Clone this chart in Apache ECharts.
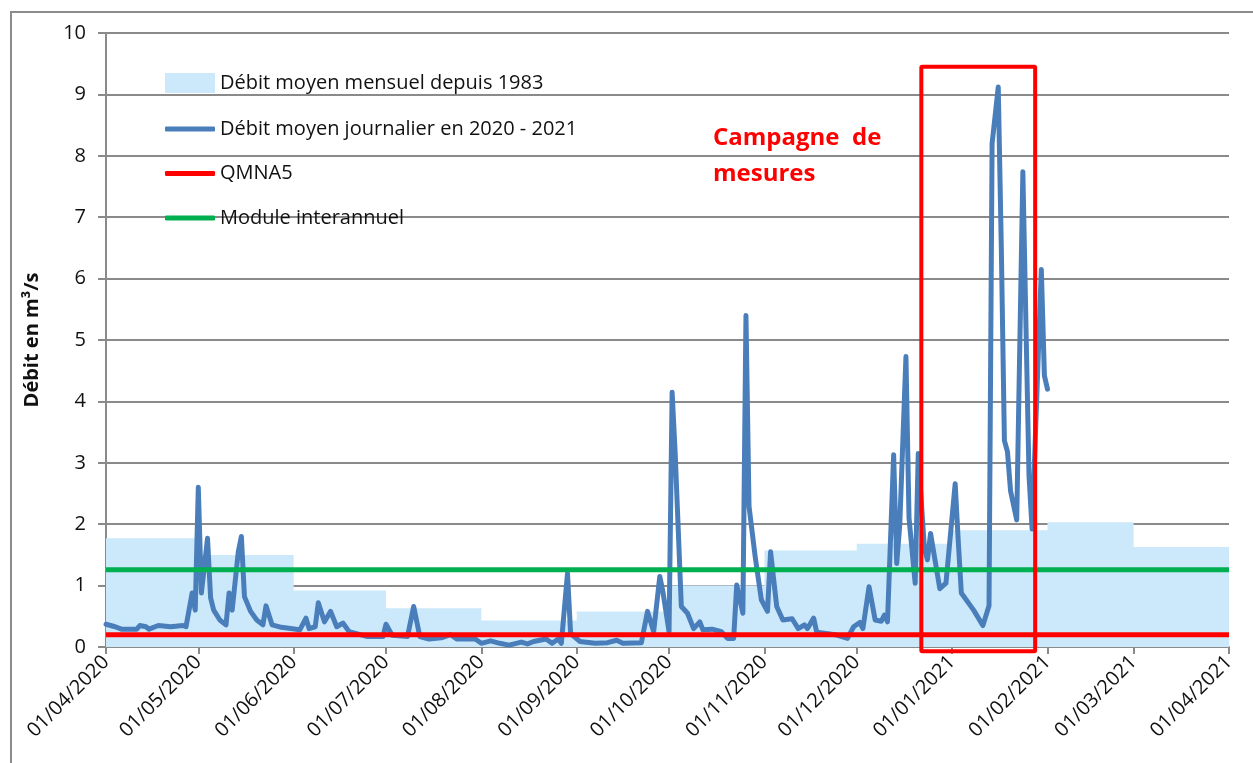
<!DOCTYPE html>
<html>
<head>
<meta charset="utf-8">
<script src="https://cdn.jsdelivr.net/npm/echarts@6/dist/echarts.min.js"></script>
<style>
  html, body { margin: 0; padding: 0; background: #fff; }
  #chart { width: 1253px; height: 763px; }
</style>
</head>
<body>
<div id="chart"></div>
<script>
// Monthly mean flow since 1983 (value held from each month start)
const monthStarts = ['2020-04-01', '2020-05-01', '2020-06-01', '2020-07-01', '2020-08-01', '2020-09-01',
  '2020-10-01', '2020-11-01', '2020-12-01', '2021-01-01', '2021-02-01', '2021-03-01', '2021-04-01'];
const monthlyMean = [1.77, 1.50, 0.92, 0.63, 0.43, 0.58, 1.00, 1.57, 1.68, 1.90, 2.03, 1.63, 1.75];

// Daily mean flow 2020 - 2021 (m3/s)
const dailyDates = [
  '2020-04-01', '2020-04-04', '2020-04-06', '2020-04-11', '2020-04-12', '2020-04-14', '2020-04-15', '2020-04-18',
  '2020-04-22', '2020-04-26', '2020-04-27', '2020-04-29', '2020-04-30', '2020-05-01', '2020-05-02', '2020-05-04',
  '2020-05-05', '2020-05-06', '2020-05-08', '2020-05-10', '2020-05-11', '2020-05-12', '2020-05-14', '2020-05-15',
  '2020-05-16', '2020-05-18', '2020-05-20', '2020-05-22', '2020-05-23', '2020-05-25', '2020-05-28', '2020-06-03',
  '2020-06-05', '2020-06-06', '2020-06-08', '2020-06-09', '2020-06-11', '2020-06-13', '2020-06-15', '2020-06-17',
  '2020-06-19', '2020-06-25', '2020-06-30', '2020-07-01', '2020-07-03', '2020-07-08', '2020-07-10', '2020-07-12',
  '2020-07-15', '2020-07-19', '2020-07-22', '2020-07-24', '2020-07-30', '2020-08-01', '2020-08-04', '2020-08-07',
  '2020-08-10', '2020-08-14', '2020-08-16', '2020-08-18', '2020-08-22', '2020-08-24', '2020-08-26', '2020-08-27',
  '2020-08-29', '2020-08-30', '2020-09-02', '2020-09-07', '2020-09-11', '2020-09-14', '2020-09-16', '2020-09-22',
  '2020-09-24', '2020-09-26', '2020-09-28', '2020-09-29', '2020-10-01', '2020-10-02', '2020-10-03', '2020-10-05',
  '2020-10-07', '2020-10-09', '2020-10-11', '2020-10-12', '2020-10-15', '2020-10-18', '2020-10-20', '2020-10-22',
  '2020-10-23', '2020-10-25', '2020-10-26', '2020-10-27', '2020-10-29', '2020-10-31', '2020-11-02', '2020-11-03',
  '2020-11-05', '2020-11-07', '2020-11-10', '2020-11-12', '2020-11-14', '2020-11-15', '2020-11-17', '2020-11-18',
  '2020-11-24', '2020-11-28', '2020-11-30', '2020-12-02', '2020-12-03', '2020-12-05', '2020-12-07', '2020-12-09',
  '2020-12-10', '2020-12-11', '2020-12-13', '2020-12-14', '2020-12-15', '2020-12-17', '2020-12-18', '2020-12-20',
  '2020-12-21', '2020-12-23', '2020-12-24', '2020-12-25', '2020-12-28', '2020-12-30', '2021-01-02', '2021-01-03',
  '2021-01-04', '2021-01-08', '2021-01-11', '2021-01-13', '2021-01-14', '2021-01-16', '2021-01-17', '2021-01-18',
  '2021-01-19', '2021-01-20', '2021-01-22', '2021-01-24', '2021-01-26', '2021-01-27', '2021-01-30', '2021-01-31',
  '2021-02-01'
];
const dailyFlow = [
  0.37, 0.33, 0.29, 0.29, 0.35, 0.33, 0.29, 0.35,
  0.33, 0.35, 0.33, 0.88, 0.60, 2.60, 0.88, 1.77,
  0.80, 0.60, 0.44, 0.36, 0.88, 0.60, 1.55, 1.80,
  0.82, 0.58, 0.44, 0.36, 0.67, 0.36, 0.32, 0.28,
  0.47, 0.30, 0.33, 0.72, 0.41, 0.58, 0.33, 0.39,
  0.25, 0.17, 0.17, 0.37, 0.19, 0.17, 0.66, 0.17,
  0.13, 0.15, 0.20, 0.13, 0.13, 0.06, 0.10, 0.06,
  0.03, 0.08, 0.05, 0.09, 0.13, 0.06, 0.13, 0.06,
  1.20, 0.22, 0.09, 0.06, 0.07, 0.11, 0.06, 0.07,
  0.58, 0.25, 1.15, 0.90, 0.25, 4.15, 3.15, 0.66,
  0.55, 0.30, 0.41, 0.28, 0.29, 0.25, 0.14, 0.14,
  1.01, 0.55, 5.40, 2.29, 1.47, 0.77, 0.58, 1.55,
  0.66, 0.44, 0.46, 0.30, 0.36, 0.30, 0.47, 0.24,
  0.20, 0.14, 0.33, 0.40, 0.30, 0.98, 0.44, 0.42,
  0.52, 0.41, 3.13, 1.36, 2.00, 4.73, 2.10, 1.04,
  3.15, 1.60, 1.42, 1.85, 0.95, 1.04, 2.66, 1.73,
  0.88, 0.60, 0.35, 0.67, 8.20, 9.12, 6.50, 3.36,
  3.18, 2.54, 2.07, 7.74, 2.79, 1.92, 6.15, 4.42,
  4.20
];

// Reference flows (m3/s)
const qmna5 = 0.20;
const moduleInterannuel = 1.26;

// Measurement campaign window
const campaignDates = ['2020-12-22', '2021-01-28'];
const campaignFlowRange = [-0.07, 9.45];

const yTicks = { min: 0, max: 10, interval: 1 };
const periodStart = '2020-04-01';
const periodEnd = '2021-04-01';

const FONT = 'Open Sans';
const TXT = '#111111';
const GRID = '#8a8a8a';

const names = {
  monthly: 'Débit moyen mensuel depuis 1983',
  daily: 'Débit moyen journalier en 2020 - 2021',
  qmna5: 'QMNA5',
  module: 'Module interannuel'
};

function pad(n) { return (n < 10 ? '0' : '') + n; }

const chart = echarts.init(document.getElementById('chart'), null, { renderer: 'canvas' });

const legendText = { fontFamily: FONT, fontSize: 20, color: TXT, lineHeight: 20 };

chart.setOption({
  animation: false,
  backgroundColor: '#ffffff',
  grid: { left: 106, right: 24, top: 33, bottom: 116, containLabel: false },
  legend: [
    {
      orient: 'vertical',
      left: 160,
      top: 68,
      itemWidth: 50,
      itemHeight: 20,
      icon: 'rect',
      textStyle: legendText,
      data: [names.monthly]
    },
    {
      orient: 'vertical',
      left: 160,
      top: 114,
      itemWidth: 50,
      itemHeight: 5,
      itemGap: 24.5,
      icon: 'roundRect',
      textStyle: legendText,
      data: [names.daily, names.qmna5, names.module]
    }
  ],
  xAxis: {
    type: 'time',
    min: periodStart,
    max: periodEnd,
    splitNumber: 12,
    minInterval: 28 * 86400000,
    maxInterval: 31 * 86400000,
    axisLine: { show: true, lineStyle: { color: GRID, width: 2 } },
    axisTick: { show: true, length: 7, lineStyle: { color: GRID, width: 2 } },
    splitLine: { show: false },
    axisLabel: {
      rotate: 45,
      margin: 12,
      fontFamily: FONT,
      fontSize: 20,
      color: TXT,
      showMinLabel: true,
      showMaxLabel: true,
      hideOverlap: false,
      formatter: function (v) {
        const d = new Date(v);
        return pad(d.getDate()) + '/' + pad(d.getMonth() + 1) + '/' + d.getFullYear();
      }
    }
  },
  yAxis: {
    type: 'value',
    min: yTicks.min,
    max: yTicks.max,
    interval: yTicks.interval,
    name: 'Débit en m³/s',
    nameLocation: 'middle',
    nameGap: 64,
    nameTextStyle: { fontFamily: FONT, fontSize: 20, fontWeight: 'bold', color: TXT },
    axisLine: { show: true, lineStyle: { color: GRID, width: 2 } },
    axisTick: { show: true, length: 8, lineStyle: { color: GRID, width: 2 } },
    splitLine: { show: true, lineStyle: { color: GRID, width: 2 } },
    axisLabel: { margin: 20, fontFamily: FONT, fontSize: 20, color: TXT }
  },
  series: [
    {
      name: names.monthly,
      type: 'line',
      step: 'end',
      symbol: 'none',
      z: 1,
      itemStyle: { color: '#cce9fb' },
      lineStyle: { width: 0, color: '#cce9fb' },
      areaStyle: { color: '#cce9fb', opacity: 1 },
      data: monthStarts.map((d, i) => [d, monthlyMean[i]])
    },
    {
      name: names.daily,
      type: 'line',
      symbol: 'none',
      z: 3,
      itemStyle: { color: '#4a7ebb' },
      lineStyle: { width: 5, color: '#4a7ebb', join: 'round', cap: 'round' },
      data: dailyDates.map((d, i) => [d, dailyFlow[i]])
    },
    {
      name: names.qmna5,
      type: 'line',
      symbol: 'none',
      z: 4,
      itemStyle: { color: '#ff0000' },
      lineStyle: { width: 5, color: '#ff0000' },
      data: [[periodStart, qmna5], [periodEnd, qmna5]]
    },
    {
      name: names.module,
      type: 'line',
      symbol: 'none',
      z: 5,
      itemStyle: { color: '#00b050' },
      lineStyle: { width: 5, color: '#00b050' },
      data: [[periodStart, moduleInterannuel], [periodEnd, moduleInterannuel]]
    }
  ]
});

// Campaign box, placed through the axes' scales
const p0 = chart.convertToPixel({ gridIndex: 0 }, [campaignDates[0], campaignFlowRange[1]]);
const p1 = chart.convertToPixel({ gridIndex: 0 }, [campaignDates[1], campaignFlowRange[0]]);

chart.setOption({
  graphic: [
    {
      type: 'rect',
      silent: true,
      z: 0,
      shape: { x: 11, y: 12, width: 1260, height: 800 },
      style: { fill: 'none', stroke: '#8c8c8c', lineWidth: 2 }
    },
    {
      type: 'rect',
      silent: true,
      z: 100,
      shape: { x: p0[0], y: p0[1], width: p1[0] - p0[0], height: p1[1] - p0[1], r: 1 },
      style: { fill: 'none', stroke: '#ff0000', lineWidth: 4 }
    },
    {
      type: 'text',
      silent: true,
      z: 100,
      left: 713,
      top: 120,
      style: {
        text: 'Campagne  de\nmesures',
        fill: '#ff0000',
        font: 'bold 24px "Open Sans"',
        lineHeight: 36
      }
    }
  ]
});
</script>
</body>
</html>
